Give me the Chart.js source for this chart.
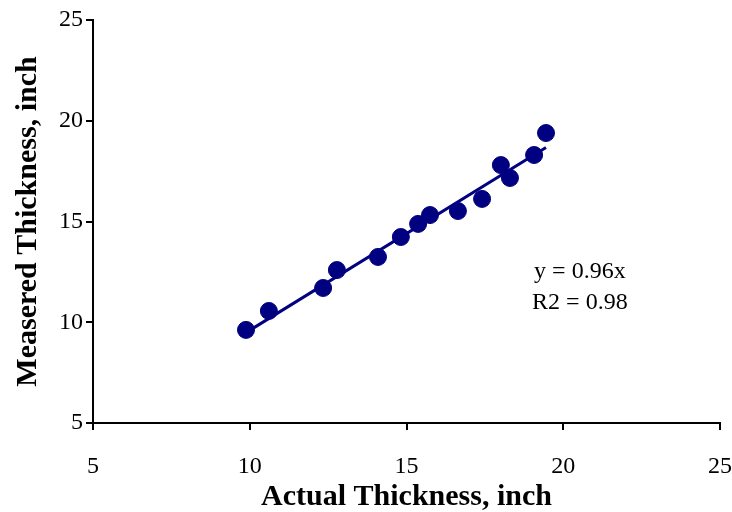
<!DOCTYPE html>
<html>
<head>
<meta charset="utf-8">
<script src="https://cdn.jsdelivr.net/npm/chart.js@4.4.0/dist/chart.umd.min.js"></script>
<style>
  body { margin: 0; background: #fff; }
  canvas { display: block; }
</style>
</head>
<body>
<canvas id="chart" width="732" height="512"></canvas>
<script>
// ---- data ----
const actualThickness = [9.88, 10.61, 12.34, 12.78, 14.09, 14.82, 15.37, 15.75, 16.64, 17.41, 18.01, 18.30, 19.07, 19.45];
const measuredThickness = [9.62, 10.56, 11.70, 12.59, 13.24, 14.23, 14.88, 15.32, 15.52, 16.12, 17.80, 17.16, 18.30, 19.39];
const trendSlope = 0.96;
const trendLabel = 'y = 0.96x';
const r2Label = 'R2 = 0.98';
const axisTicks = [5, 10, 15, 20, 25];

const NAVY = '#000080';
const FONT = "'Liberation Serif', 'Times New Roman', serif";

const points = actualThickness.map((x, i) => ({ x: x, y: measuredThickness[i] }));
const xMin = Math.min(...actualThickness);
const xMax = Math.max(...actualThickness);
const trend = [
  { x: xMin, y: trendSlope * xMin },
  { x: xMax, y: trendSlope * xMax }
];

// equation text, placed in data space
const equationLabel = {
  id: 'equationLabel',
  afterDatasetsDraw(chart) {
    const { ctx, scales } = chart;
    ctx.save();
    ctx.fillStyle = '#000';
    ctx.font = '24px ' + FONT;
    ctx.textAlign = 'center';
    ctx.textBaseline = 'middle';
    ctx.fillText(trendLabel, scales.x.getPixelForValue(20.53), scales.y.getPixelForValue(12.49));
    ctx.fillText(r2Label, scales.x.getPixelForValue(20.53), scales.y.getPixelForValue(10.96));
    ctx.restore();
  }
};

function axisOpts(title, fit, tickPad, titlePad) {
  return {
    type: 'linear',
    min: 5,
    max: 25,
    afterBuildTicks: (axis) => { axis.ticks = axisTicks.map(v => ({ value: v })); },
    afterFit: fit,
    border: { display: true, color: '#000', width: 2 },
    grid: { drawOnChartArea: false, drawTicks: true, tickLength: 7, color: '#000', lineWidth: 2 },
    ticks: { color: '#000', font: { family: FONT, size: 24 }, padding: tickPad },
    title: {
      display: true,
      text: title,
      color: '#000',
      font: { family: FONT, size: 30, weight: 'bold', lineHeight: 1 },
      padding: { top: titlePad, bottom: 0 }
    }
  };
}

new Chart(document.getElementById('chart'), {
  type: 'scatter',
  data: {
    datasets: [
      {
        label: 'Trend',
        type: 'line',
        data: trend,
        borderColor: NAVY,
        borderWidth: 3,
        pointRadius: 0,
        fill: false,
        order: 2
      },
      {
        label: 'Measured',
        data: points,
        backgroundColor: NAVY,
        borderColor: NAVY,
        pointRadius: 8.5,
        pointHoverRadius: 8.5,
        order: 1
      }
    ]
  },
  options: {
    responsive: false,
    animation: false,
    layout: { padding: { top: 20, right: 0, left: 0, bottom: 0 } },
    plugins: {
      legend: { display: false },
      tooltip: { enabled: false }
    },
    scales: {
      x: axisOpts('Actual Thickness, inch', (s) => {
        s.height = 89;
        s.paddingLeft = 0;
        s.paddingRight = 12;
      }, 22, 0),
      y: axisOpts('Measered Thickness, inch', (s) => { s.width = 93; }, 3, 13)
    }
  },
  plugins: [equationLabel]
});
</script>
</body>
</html>
